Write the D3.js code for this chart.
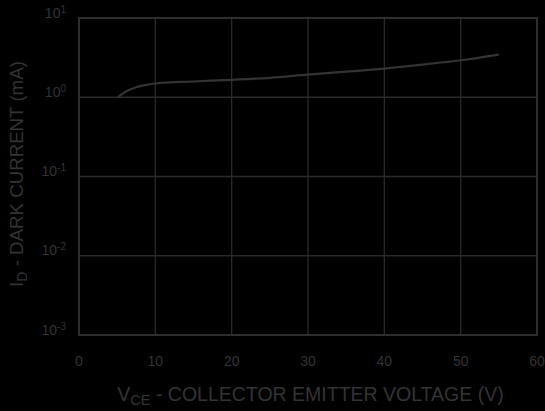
<!DOCTYPE html>
<html>
<head>
<meta charset="utf-8">
<script src="https://cdn.jsdelivr.net/npm/d3@7"></script>
<style>
  html, body { margin: 0; padding: 0; background: #000; }
  svg { display: block; }
  text { font-family: "Liberation Sans", Arial, Helvetica, sans-serif; fill: #333; }
</style>
</head>
<body>
<svg id="chart" width="545" height="411"></svg>
<script>
// Dark current vs. collector-emitter voltage
const voltage = [5.1, 6.2, 7.5, 8.8, 10, 15, 20, 25, 30, 35, 40, 45, 50, 55];
const darkCurrent = [1.0, 1.19, 1.34, 1.43, 1.49, 1.58, 1.66, 1.76, 1.93, 2.1, 2.3, 2.58, 2.93, 3.45];
const xTicks = [0, 10, 20, 30, 40, 50, 60];
const yExponents = [1, 0, -1, -2, -3];

const svg = d3.select("#chart");
const W = 545, H = 411;
svg.append("rect").attr("width", W).attr("height", H).attr("fill", "#000");

const plot = { left: 79, right: 537, top: 18, bottom: 335 };

const x = d3.scaleLinear().domain([0, 60]).range([plot.left, plot.right]);
const y = d3.scaleLog().domain([1e-3, 10]).range([plot.bottom, plot.top]);

const gridColor = "#2a2a2a";

// vertical grid
svg.append("g").selectAll("line")
  .data(xTicks.slice(1, -1))
  .join("line")
  .attr("x1", d => x(d)).attr("x2", d => x(d))
  .attr("y1", plot.top).attr("y2", plot.bottom)
  .attr("stroke", gridColor).attr("stroke-width", 1.3);

// horizontal grid at each decade
svg.append("g").selectAll("line")
  .data(yExponents.slice(1, -1))
  .join("line")
  .attr("x1", plot.left).attr("x2", plot.right)
  .attr("y1", d => y(Math.pow(10, d))).attr("y2", d => y(Math.pow(10, d)))
  .attr("stroke", gridColor).attr("stroke-width", 1.3);

// frame
svg.append("rect")
  .attr("x", plot.left).attr("y", plot.top)
  .attr("width", plot.right - plot.left).attr("height", plot.bottom - plot.top)
  .attr("fill", "none").attr("stroke", "#2e2e2e").attr("stroke-width", 2);

// curve
const line = d3.line()
  .x((d, i) => x(voltage[i]))
  .y((d, i) => y(darkCurrent[i]))
  .curve(d3.curveMonotoneX);
svg.append("path")
  .datum(darkCurrent)
  .attr("d", line)
  .attr("fill", "none")
  .attr("stroke", "#333")
  .attr("stroke-width", 2.2);

// x tick labels
svg.append("g").selectAll("text")
  .data(xTicks)
  .join("text")
  .attr("x", d => x(d))
  .attr("y", 366)
  .attr("text-anchor", "middle")
  .attr("font-size", 14)
  .text(d => d);

// y tick labels, 10 with superscript exponent
const yl = svg.append("g").selectAll("text")
  .data(yExponents)
  .join("text")
  .attr("x", 66)
  .attr("y", d => y(Math.pow(10, d)) - 0.5)
  .attr("text-anchor", "end")
  .attr("font-size", 14);
yl.append("tspan").text("10");
yl.append("tspan").attr("font-size", 10).attr("dy", -5).text(d => d);

// x axis title
const xt = svg.append("text")
  .attr("x", 310.5).attr("y", 401)
  .attr("text-anchor", "middle")
  .attr("font-size", 19.5);
xt.append("tspan").text("V");
xt.append("tspan").attr("font-size", 14.5).attr("dy", 4).text("CE");
xt.append("tspan").attr("dy", -4).text(" - COLLECTOR EMITTER VOLTAGE (V)");

// y axis title
const yt = svg.append("text")
  .attr("transform", "translate(23,174) rotate(-90)")
  .attr("text-anchor", "middle")
  .attr("font-size", 18.7);
yt.append("tspan").text("I");
yt.append("tspan").attr("font-size", 14).attr("dy", 4).text("D");
yt.append("tspan").attr("dy", -4).text(" - DARK CURRENT (mA)");
</script>
</body>
</html>
